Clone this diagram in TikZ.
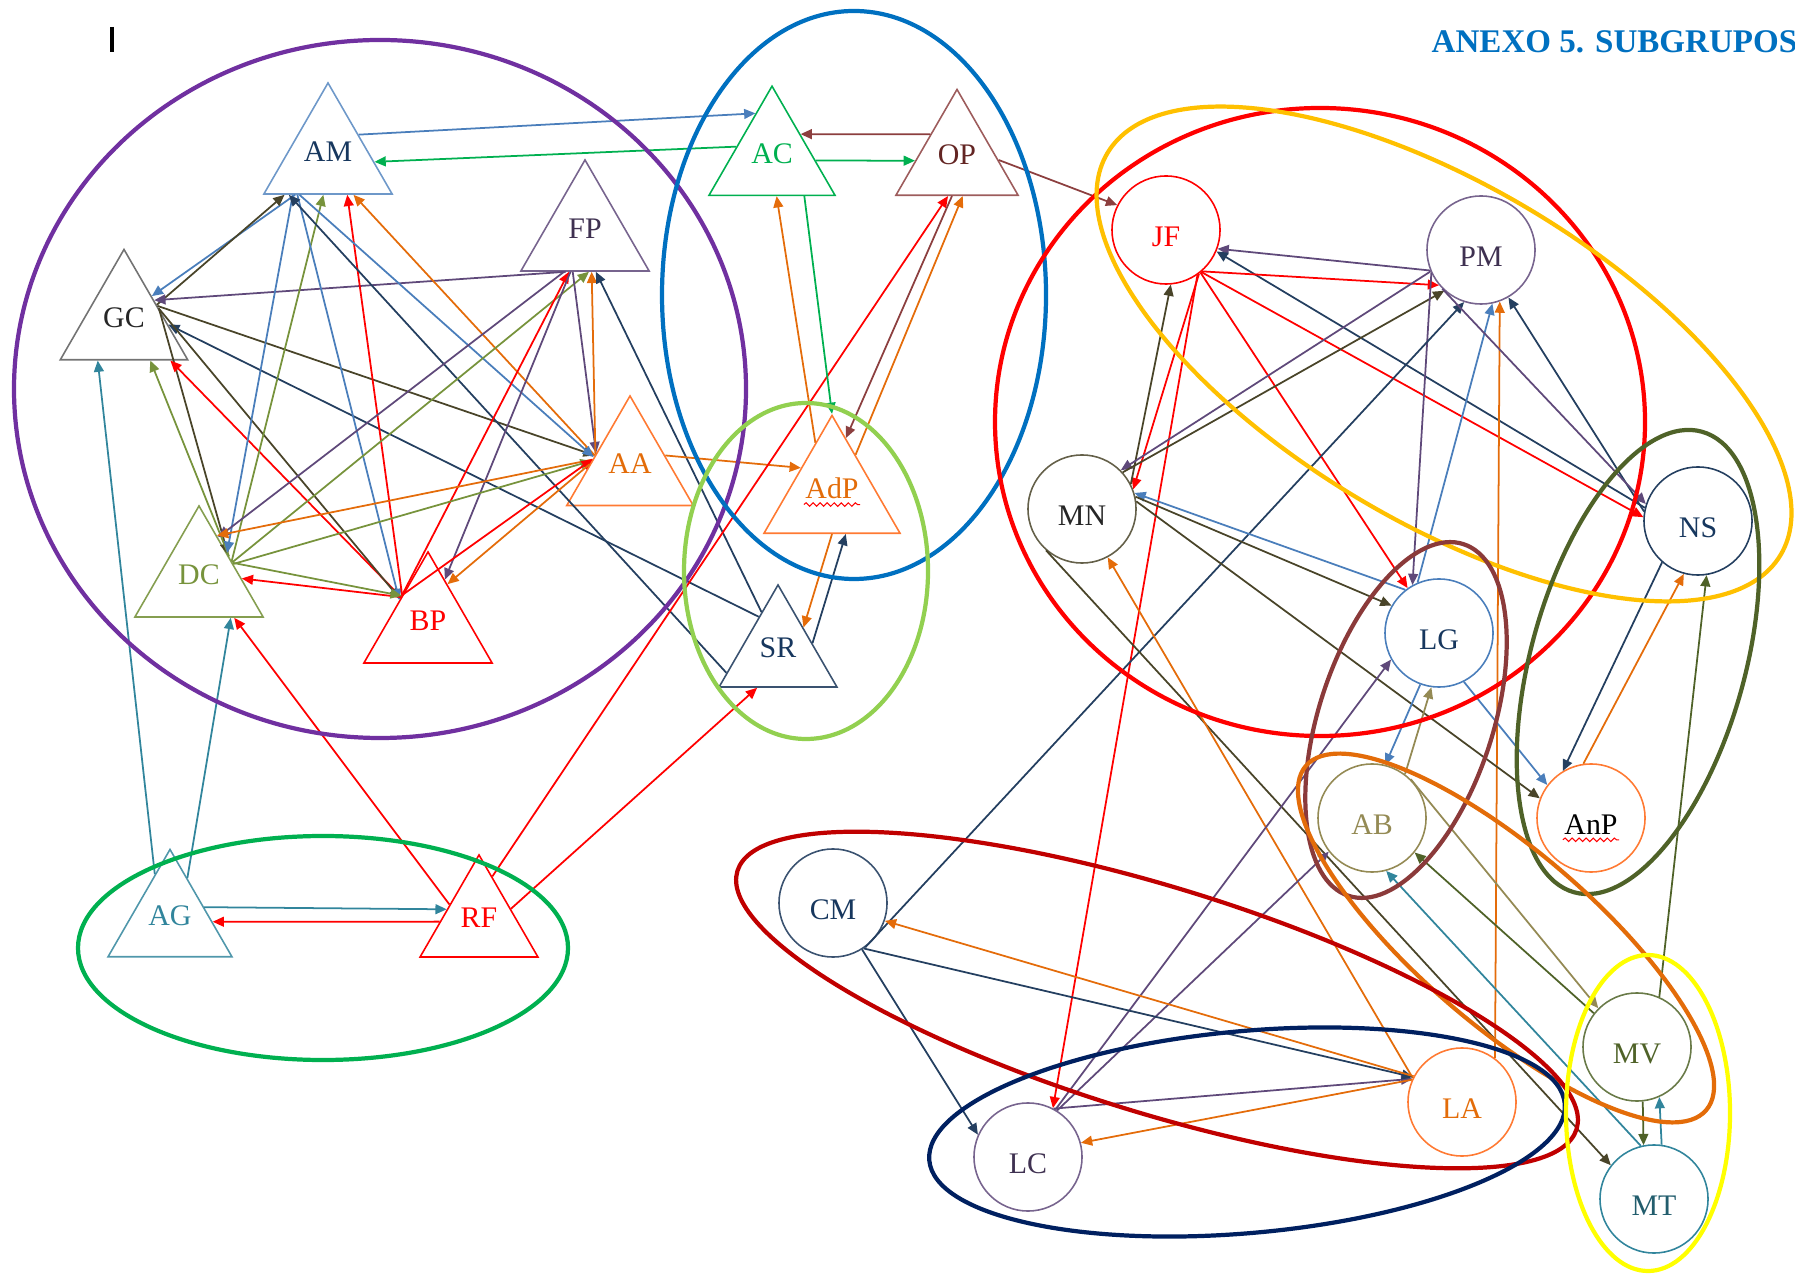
\documentclass[tikz,border=0pt]{standalone}
\usepackage{fontspec}
\setmainfont{Liberation Serif}
\usepackage{tikz}
\usetikzlibrary{shapes.geometric,arrows.meta,decorations.pathmorphing}

\definecolor{cPurple}{HTML}{7030A0}
\definecolor{cBlue}{HTML}{0070C0}
\definecolor{cLime}{HTML}{92D050}
\definecolor{cGreen}{HTML}{00B050}
\definecolor{cGold}{HTML}{FFC000}
\definecolor{cOlive}{HTML}{4F6228}
\definecolor{cBrown}{HTML}{8B3A3A}
\definecolor{cOrange}{HTML}{E36C09}
\definecolor{cDarkRed}{HTML}{C00000}
\definecolor{cNavy}{HTML}{002060}
\definecolor{cYellow}{HTML}{FFFF00}
\definecolor{lSteel}{HTML}{4A7EBB}
\definecolor{lNavy}{HTML}{243F60}
\definecolor{lDark}{HTML}{494429}
\definecolor{lOliveG}{HTML}{77933C}
\definecolor{lPurple}{HTML}{5F497A}
\definecolor{lOrange}{HTML}{E46C0A}
\definecolor{lGreen}{HTML}{00B050}
\definecolor{lBrown}{HTML}{8C3F3F}
\definecolor{lTeal}{HTML}{31859C}
\definecolor{lKhaki}{HTML}{948A54}
\definecolor{lMoss}{HTML}{4F6228}
\definecolor{tNavy}{HTML}{17375E}
\definecolor{tPurple}{HTML}{3F3151}
\definecolor{tBrown}{HTML}{632523}

\tikzset{
	tri/.style={regular polygon, regular polygon sides=3, draw, inner sep=0pt, line width=0.45pt, text height=6pt, text depth=3.2pt, font=\fontsize{8.5}{10}\selectfont},
	ring/.style={circle, draw, minimum size=1.08cm, inner sep=0pt, line width=0.45pt, text height=9.2pt, text depth=0pt, font=\fontsize{8.5}{10}\selectfont},
	con/.style={-{Triangle[length=3.2pt,width=2.8pt]}, line width=0.5pt},
	grp/.style={line width=1.2pt},
	squiggle/.style={red, line width=0.3pt, decorate, decoration={snake, amplitude=0.5pt, segment length=2pt}}
}

\begin{document}
\begin{tikzpicture}[x=0.01cm, y=-0.01cm]
	\useasboundingbox (0,0) rectangle (1795,1274);
	\node[anchor=base west, inner sep=0pt, text=cBlue, font=\bfseries\fontsize{9.4}{12}\selectfont] (title) at (1431,53) {ANEXO 5. SUBGRUPOS};
	\draw[line width=1pt] (112,27) -- (112,52);

	\node[tri, minimum size=1.48cm, draw=lSteel!80, text=tNavy] (AM) at (328,157) {AM};
	\node[tri, minimum size=1.47cm, draw=gray!90!black, text=black!85] (GC) at (124,323) {GC};
	\node[tri, minimum size=1.48cm, draw=lPurple!85, text=tPurple] (FP) at (585,234) {FP};
	\node[tri, minimum size=1.46cm, draw=orange!70!red!80, text=cOrange] (AA) at (630,469) {AA};
	\node[tri, minimum size=1.48cm, draw=lOliveG!90, text=lOliveG] (DC) at (199,580) {DC};
	\node[tri, minimum size=1.48cm, draw=red, text=red] (BP) at (428,626) {BP};
	\node[tri, minimum size=1.455cm, draw=cGreen, text=cGreen] (AC) at (772,159) {AC};
	\node[tri, minimum size=1.41cm, draw=lBrown!85, text=tBrown] (OP) at (957,160) {OP};
	\node[tri, minimum size=1.57cm, draw=orange!70!red!80, text=cOrange] (AdP) at (832,494) {AdP};
	\node[tri, minimum size=1.36cm, draw=lNavy!90, text=tNavy] (SR) at (778,653) {SR};
	\node[tri, minimum size=1.43cm, draw=lTeal!85, text=lTeal] (AG) at (170,921) {AG};
	\node[tri, minimum size=1.36cm, draw=red, text=red] (RF) at (479,923) {RF};

	\node[ring, draw=red, text=red] (JF) at (1166,230) {JF};
	\node[ring, draw=lPurple!85, text=tPurple] (PM) at (1481,250) {PM};
	\node[ring, draw=lDark!85, text=black!85] (MN) at (1082,509) {MN};
	\node[ring, draw=lNavy, text=tNavy] (NS) at (1698,521) {NS};
	\node[ring, draw=lSteel, text=tNavy] (LG) at (1439,633) {LG};
	\node[ring, draw=lKhaki, text=lKhaki] (AB) at (1372,818) {AB};
	\node[ring, draw=orange!70!red!80, text=black] (AnP) at (1591,818) {AnP};
	\node[ring, draw=lNavy!90, text=tNavy] (CM) at (833,903) {CM};
	\node[ring, draw=lMoss!85, text=lMoss] (MV) at (1637,1047) {MV};
	\node[ring, draw=orange!70!red!80, text=cOrange] (LA) at (1462,1102) {LA};
	\node[ring, draw=lPurple!85, text=tPurple] (LC) at (1028,1157) {LC};
	\node[ring, draw=lTeal, text=lTeal!70!black] (MT) at (1654,1199) {MT};
	\draw[squiggle] ([xshift=-8pt, yshift=-3pt]AdP.center) -- ([xshift=8pt, yshift=-3pt]AdP.center);
	\draw[squiggle] ([xshift=-8pt, yshift=-6.2pt]AnP.center) -- ([xshift=8pt, yshift=-6.2pt]AnP.center);

	\draw[con, lSteel] (AM.36) -- (AC.110);
	\draw[con, lGreen] (AC.161) -- (AM.-6);
	\draw[con, lSteel] (AM.-131) -- (GC.44);
	\draw[con, lDark] (GC.29) -- (AM.-139);
	\draw[con, lPurple] (FP.-117) -- (GC.37);
	\draw[con, lDark] (GC.27) -- (AA.159);
	\draw[con, lNavy] (SR.118) -- (GC.-2);
	\draw[con, lDark] (GC.23) -- (DC.41);
	\draw[con, lOliveG] (DC.38) -- (GC.-55);
	\draw[con, red] (BP.133) -- (GC.-39);
	\draw[con, lDark] (GC.21) -- (BP.136);
	\draw[con, lSteel] (AM.-133) -- (DC.44);
	\draw[con, lOliveG] (DC.30) -- (AM.-97);
	\draw[con, lSteel] (AM.-129) -- (BP.138);
	\draw[con, red] (BP.130) -- (AM.-63);
	\draw[con, lOrange] (AA.159) -- (AM.-56);
	\draw[con, lSteel] (AM.-127) -- (AA.162);
	\draw[con, lNavy] (SR.-159) -- (AM.-136);
	\draw[con, lPurple] (FP.-119) -- (DC.66);
	\draw[con, lOliveG] (DC.28) -- (FP.-84);
	\draw[con, red] (BP.132) -- (FP.-113);
	\draw[con, lPurple] (FP.-111) -- (BP.70);
	\draw[con, lPurple] (FP.-108) -- (AA.155);
	\draw[con, lOrange] (AA.157) -- (FP.-80);
	\draw[con, lNavy] (SR.112) -- (FP.-74);
	\draw[con, lOrange] (AA.166) -- (DC.68);
	\draw[con, lOliveG] (DC.25) -- (AA.168);
	\draw[con, red] (BP.133) -- (DC.2);
	\draw[con, lOliveG] (DC.27) -- (BP.131);
	\draw[con, red] (BP.130) -- (AA.165);
	\draw[con, lOrange] (AA.173) -- (BP.65);
	\draw[con, lOrange] (AA.21) -- (AdP.140);
	\draw[con, red] (RF.148) -- (DC.-47);
	\draw[con, lTeal] (AG.108) -- (GC.-125);
	\draw[con, lTeal] (AG.68) -- (DC.-50);
	\draw[con, lTeal] (AG.22) -- (RF.157);
	\draw[con, red] (RF.178) -- (AG.-1);
	\draw[con, red] (RF.24) -- (SR.-121);
	\draw[con, red] (RF.74) -- (OP.-104);

	\draw[con, lGreen] (AC.-49) -- (AdP.90);
	\draw[con, lOrange] (AdP.108) -- (AC.-83);
	\draw[con, lBrown] (OP.-98) -- (AdP.76);
	\draw[con, lOrange] (AdP.59) -- (OP.-81);
	\draw[con, lBrown] (OP.136) -- (AC.41);
	\draw[con, lGreen] (AC.-2) -- (OP.-179);
	\draw[con, lBrown] (OP.0) -- (JF.153);
	\draw[con, lOrange] (AdP.-90) -- (SR.45);
	\draw[con, lNavy] (SR.16) -- (AdP.-71);

	\draw[con, lPurple] (PM.-158) -- (JF.-20);
	\draw[con, lNavy] (NS.166) -- (JF.-23);
	\draw[con, red] (JF.-49) -- (PM.-140);
	\draw[con, red] (JF.-50) -- (NS.176);
	\draw[con, red] (JF.-51) -- (LG.125);
	\draw[con, red] (JF.-53) -- (MN.21);
	\draw[con, red] (JF.-55) -- (LC.63);
	\draw[con, lDark] (MN.27) -- (JF.-85);
	\draw[con, lPurple] (PM.-157) -- (MN.45);
	\draw[con, lDark] (MN.42) -- (PM.-132);
	\draw[con, lPurple] (PM.-155) -- (LG.119);
	\draw[con, lSteel] (LG.113) -- (PM.-78);
	\draw[con, lNavy] (CM.-54) -- (PM.-108);
	\draw[con, lOrange] (LA.53) -- (PM.-70);
	\draw[con, lNavy] (NS.170) -- (PM.-60);
	\draw[con, lPurple] (PM.-135) -- (NS.162);
	\draw[con, lSteel] (LG.128) -- (MN.17);
	\draw[con, lDark] (MN.13) -- (LG.150);
	\draw[con, lDark] (MN.8) -- (AnP.159);
	\draw[con, lDark] (MN.-131) -- (MT.142);
	\draw[con, lOrange] (LA.154) -- (MN.-62);
	\draw[con, lPurple] (LC.60) -- (LG.-151);
	\draw[con, lSteel] (LG.-110) -- (AB.76);
	\draw[con, lKhaki] (AB.53) -- (LG.-98);
	\draw[con, lSteel] (LG.-63) -- (AnP.143);
	\draw[con, lNavy] (NS.-131) -- (AnP.121);
	\draw[con, lOrange] (AnP.98) -- (NS.-105);
	\draw[con, lMoss] (MV.66) -- (NS.-81);
	\draw[con, lPurple] (LC.58) -- (AB.-142);
	\draw[con, lPurple] (LC.62) -- (LA.155);
	\draw[con, lOrange] (LA.156) -- (LC.15);
	\draw[con, lNavy] (CM.-56) -- (LA.153);
	\draw[con, lOrange] (LA.152) -- (CM.-19);
	\draw[con, lNavy] (CM.-58) -- (LC.156);
	\draw[con, lMoss] (MV.142) -- (AB.-39);
	\draw[con, lKhaki] (AB.45) -- (MV.135);
	\draw[con, lTeal] (MT.104) -- (AB.-75);
	\draw[con, lMoss] (MV.-84) -- (MT.101);
	\draw[con, lTeal] (MT.82) -- (MV.-66);

	\draw[grp, cPurple] (380,389) ellipse [x radius=366, y radius=349];
	\draw[grp, cBlue] (854,295) ellipse [x radius=192, y radius=284];
	\draw[grp, cLime] (806,571) ellipse [x radius=122, y radius=168];
	\draw[grp, cGreen] (323,948) ellipse [x radius=245, y radius=112];
	\draw[grp, red] (1320,422) ellipse [x radius=325, y radius=314];
	\draw[grp, cGold, rotate around={-30.85:(1444,354)}] (1444,354) ellipse [x radius=392, y radius=168];
	\draw[grp, cOlive, rotate around={74.5:(1638,662)}] (1638,662) ellipse [x radius=239, y radius=107];
	\draw[grp, cBrown, rotate around={71.9:(1406,720)}] (1406,720) ellipse [x radius=185, y radius=87];
	\draw[grp, cOrange, rotate around={-40.7:(1506,938)}] (1506,938) ellipse [x radius=264, y radius=87];
	\draw[grp, cDarkRed, rotate around={-17.1:(1157,1000)}] (1157,1000) ellipse [x radius=439, y radius=113];
	\draw[grp, cNavy, rotate around={5.1:(1247,1132)}] (1247,1132) ellipse [x radius=319, y radius=101];
	\draw[grp, cYellow] (1648,1113) ellipse [x radius=82, y radius=158];
\end{tikzpicture}
\end{document}
